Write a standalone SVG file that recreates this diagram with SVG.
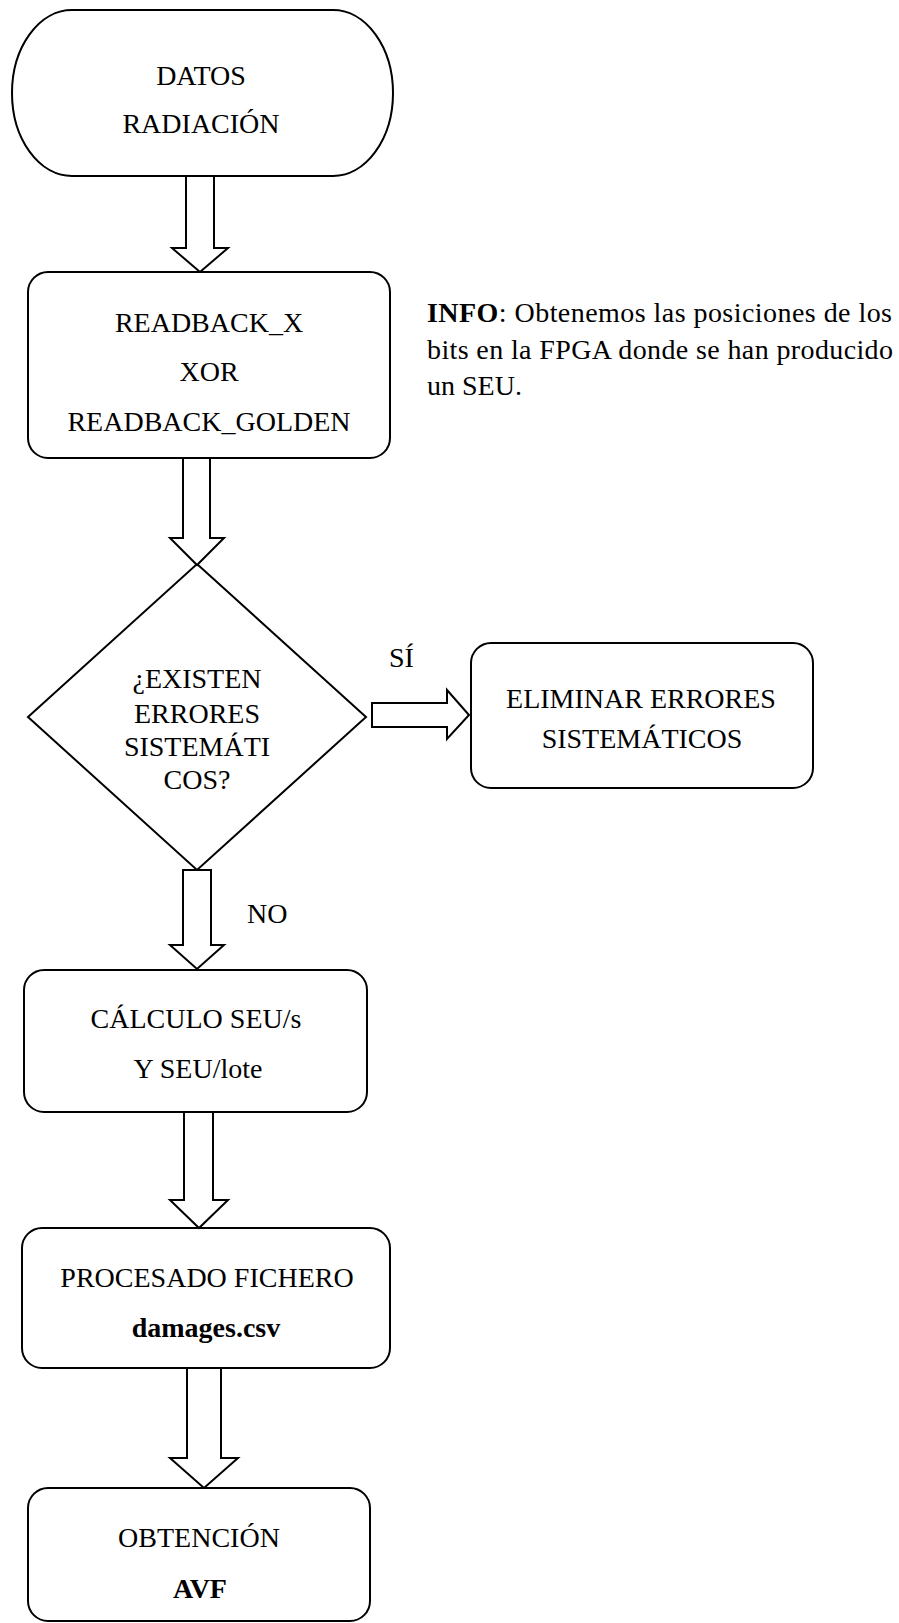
<svg xmlns="http://www.w3.org/2000/svg" width="899" height="1623" viewBox="0 0 899 1623">
<style>
.s{fill:#fff;stroke:#000;stroke-width:2;stroke-linejoin:miter}
text{font-family:"Liberation Serif","Times New Roman",serif;font-size:28px;fill:#000}
.b{font-weight:bold}
</style>
<rect width="899" height="1623" fill="#fff"/>
<g id="n1" text-anchor="middle" font-family="Liberation Serif, serif"><rect class="s" x="12" y="10" width="381" height="166" rx="60" ry="83"/>
<text x="201" y="85">DATOS</text><text x="201" y="133">RADIACIÓN</text></g>
<g id="n2" text-anchor="middle" font-family="Liberation Serif, serif"><rect class="s" x="28" y="272" width="362" height="186" rx="20"/>
<text x="209" y="332">READBACK_X</text><text x="209" y="381">XOR</text><text x="209" y="431">READBACK_GOLDEN</text></g>
<g id="info" font-family="Liberation Serif, serif"><text x="427" y="322" textLength="465" lengthAdjust="spacing"><tspan class="b">INFO</tspan>: Obtenemos las posiciones de los</text>
<text x="427" y="359" textLength="466" lengthAdjust="spacing">bits en la FPGA donde se han producido</text>
<text x="427" y="395">un SEU.</text></g>
<g id="n3" text-anchor="middle" font-family="Liberation Serif, serif"><polygon class="s" points="197,564 366,717 197,870 28,717"/>
<text x="197" y="688">¿EXISTEN</text><text x="197" y="723">ERRORES</text><text x="197" y="756">SISTEMÁTI</text><text x="197" y="789">COS?</text></g>
<g id="n4" text-anchor="middle" font-family="Liberation Serif, serif"><rect class="s" x="471" y="643" width="342" height="145" rx="20"/>
<text x="641" y="708">ELIMINAR ERRORES</text><text x="642" y="748">SISTEMÁTICOS</text></g>
<g id="n5" text-anchor="middle" font-family="Liberation Serif, serif"><rect class="s" x="24" y="970" width="343" height="142" rx="20"/>
<text x="196" y="1028">CÁLCULO SEU/s</text><text x="198" y="1078">Y SEU/lote</text></g>
<g id="n6" text-anchor="middle" font-family="Liberation Serif, serif"><rect class="s" x="22" y="1228" width="368" height="140" rx="20"/>
<text x="207" y="1287">PROCESADO FICHERO</text><text class="b" x="206" y="1337">damages.csv</text></g>
<g id="n7" text-anchor="middle" font-family="Liberation Serif, serif"><rect class="s" x="28" y="1488" width="342" height="133" rx="20"/>
<text x="199" y="1547">OBTENCIÓN</text><text class="b" x="200" y="1598">AVF</text></g>
<g id="connectors" font-family="Liberation Serif, serif">
<polygon class="s" points="186,176 214,176 214,248 228,248 200,272 172,248 186,248"/>
<polygon class="s" points="183,458 210,458 210,538 224,538 197,565 170,538 183,538"/>
<polygon class="s" points="183,870 211,870 211,945 224,945 197,969 170,945 183,945"/>
<polygon class="s" points="184,1112 213,1112 213,1200 228,1200 199,1228 170,1200 184,1200"/>
<polygon class="s" points="187,1368 221,1368 221,1458 238,1458 204,1488 170,1458 187,1458"/>
<polygon class="s" points="372,703 447,703 447,690 469,715 447,739 447,727 372,727"/>
<text x="389" y="667">SÍ</text>
<text x="247" y="923">NO</text>
</g>
</svg>
